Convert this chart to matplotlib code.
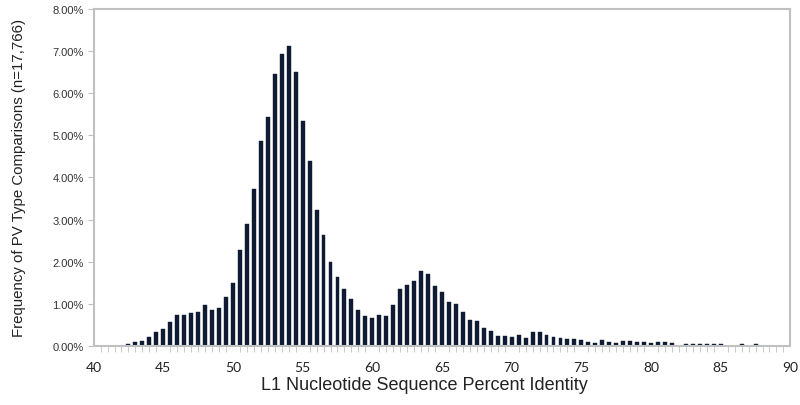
import numpy as np
import matplotlib
matplotlib.use("Agg")
import matplotlib.pyplot as plt
from matplotlib.ticker import FuncFormatter, MultipleLocator

# percent identity bins (0.5 wide) and frequency in %
identity = np.arange(42.5, 88.0, 0.5)
freq = [
    0.05, 0.08, 0.11, 0.21, 0.33, 0.39, 0.57, 0.73, 0.74, 0.77, 0.79, 0.96, 0.85, 0.89, 1.16,
    1.48, 2.27, 2.90, 3.73, 4.86, 5.44, 6.47, 6.93, 7.13, 6.51,
    5.34, 4.40, 3.22, 2.62, 1.98, 1.64, 1.36, 1.10, 0.85, 0.70,
    0.67, 0.73, 0.70, 0.96, 1.34, 1.45, 1.55, 1.77, 1.71, 1.42,
    1.27, 1.04, 1.00, 0.80, 0.61, 0.58, 0.41, 0.36, 0.24, 0.24,
    0.21, 0.25, 0.19, 0.32, 0.32, 0.25, 0.20, 0.18, 0.17, 0.16,
    0.14, 0.09, 0.07, 0.13, 0.09, 0.07, 0.11, 0.11, 0.10, 0.09,
    0.07, 0.10, 0.08, 0.06, 0.00, 0.03, 0.03, 0.03, 0.03, 0.03,
    0.03, 0.00, 0.00, 0.03, 0.00, 0.03,
]
xticks = [40, 45, 50, 55, 60, 65, 70, 75, 80, 85, 90]

fig = plt.figure(figsize=(8, 4.06), dpi=100)
ax = fig.add_axes([0.117, 0.146, 0.871, 0.829])

ax.bar(identity, freq, width=0.28, color="#0f1b33", edgecolor="#0f1b33", linewidth=0.3)

ax.set_xlim(40, 90)
ax.set_ylim(0, 8)
ax.set_xticks(xticks)
ax.xaxis.set_minor_locator(MultipleLocator(0.5))
ax.yaxis.set_major_locator(MultipleLocator(1))
ax.yaxis.set_major_formatter(FuncFormatter(lambda v, p: f"{v:.2f}%"))

for s in ax.spines.values():
    s.set_color("#c0c0c0")
    s.set_linewidth(1.5)

ax.tick_params(axis="x", which="major", length=0, pad=11, labelsize=10, labelcolor="#222222")
ax.tick_params(axis="x", which="minor", length=4, color="#c0c0c0", direction="out")
ax.tick_params(axis="y", length=4, color="#c0c0c0", labelsize=8, labelcolor="#333333", pad=3)
for lbl in ax.get_xticklabels():
    lbl.set_family("Lato")
for lbl in ax.get_yticklabels():
    lbl.set_family("Liberation Sans")

ax.set_xlabel("L1 Nucleotide Sequence Percent Identity", fontsize=13,
              family="Liberation Sans", color="#222222")
ax.xaxis.set_label_coords(0.475, -0.09)
ax.set_ylabel("Frequency of PV Type Comparisons (n=17,766)", fontsize=10.8,
              family="Liberation Sans", color="#222222", labelpad=19)

fig.savefig("out.png", dpi=100)
